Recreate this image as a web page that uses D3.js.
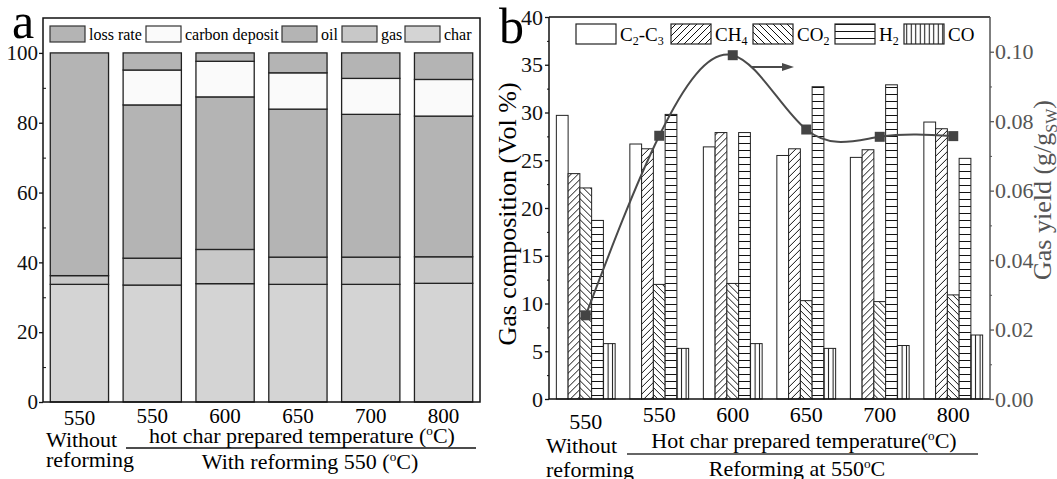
<!DOCTYPE html>
<html>
<head>
<meta charset="utf-8">
<script src="https://cdn.jsdelivr.net/npm/d3@7"></script>
<style>
body { margin: 0; background: #fff; }
svg { font-family: "Liberation Serif", "Times New Roman", serif; }
</style>
</head>
<body>
<svg id="chart" width="1057" height="479"></svg>
<script>
var categories = ["550", "550", "600", "650", "700", "800"];

// panel a, wt %, stacked from the bottom
var charYield = [33.7, 33.5, 33.9, 33.7, 33.7, 34.0];
var gasYieldA = [2.5, 7.7, 9.8, 7.8, 7.8, 7.6];
var oilYield = [63.8, 43.9, 43.7, 42.4, 40.9, 40.3];
var carbonDeposit = [0, 10.0, 10.2, 10.4, 10.3, 10.5];
var lossRate = [0, 4.9, 2.4, 5.7, 7.3, 7.6];

// panel b, vol %
var c2c3 = [29.7, 26.7, 26.4, 25.5, 25.3, 29.0];
var ch4 = [23.6, 26.2, 27.9, 26.2, 26.1, 28.3];
var co2 = [22.1, 12.0, 12.1, 10.3, 10.2, 10.9];
var h2 = [18.7, 29.8, 27.9, 32.7, 32.9, 25.2];
var co = [5.8, 5.3, 5.8, 5.3, 5.6, 6.7];
// gas yield, g/g
var gasYieldB = [0.0241, 0.0758, 0.0990, 0.0776, 0.0755, 0.0757];

var yTicksA = [0, 20, 40, 60, 80, 100];
var yTicksB = [0, 5, 10, 15, 20, 25, 30, 35, 40];
var yTicksR = [0, 0.02, 0.04, 0.06, 0.08, 0.10];

var svg = d3.select("#chart");
var defs = svg.append("defs");

function pattern(id, w, h, d) {
    var p = defs.append("pattern").attr("id", id)
        .attr("patternUnits", "userSpaceOnUse")
        .attr("width", w).attr("height", h);
    p.append("rect").attr("width", w).attr("height", h).attr("fill", "#fff");
    p.append("path").attr("d", d).attr("stroke", "#111").attr("stroke-width", 1).attr("fill", "none");
}
pattern("fwd", 7, 7, "M-1,1 l2,-2 M0,7 l7,-7 M6,8 l2,-2");
pattern("back", 7, 7, "M-1,6 l2,2 M0,0 l7,7 M6,-1 l2,2");
pattern("horiz", 7, 7, "M0,3.5 h7");
pattern("vert", 4.5, 7, "M2.25,0 v7");

// ---------- panel a ----------
var xA = d3.scaleBand().domain(d3.range(categories.length)).range([43, 480])
    .paddingInner(0.2).paddingOuter(0.1);
var yA = d3.scaleLinear().domain([0, 110]).range([402, 18]);

var keysA = ["char", "gas", "oil", "carbon", "loss"];
var colorsA = {loss: "#b4b4b4", carbon: "#fafafa", oil: "#b4b4b4", gas: "#c8c8c8", char: "#d4d4d4"};
var rowsA = categories.map(function(c, i) {
    return {char: charYield[i], gas: gasYieldA[i], oil: oilYield[i], carbon: carbonDeposit[i], loss: lossRate[i]};
});
var stackA = d3.stack().keys(keysA)(rowsA);

var gA = svg.append("g");
stackA.forEach(function(layer) {
    gA.append("g").selectAll("rect")
        .data(layer)
        .enter()
        .append("rect")
        .attr("x", function(d, i) { return xA(i); })
        .attr("width", xA.bandwidth())
        .attr("y", function(d) { return yA(d[1]); })
        .attr("height", function(d) { return yA(d[0]) - yA(d[1]); })
        .attr("fill", colorsA[layer.key])
        .attr("stroke", function(d) { return d[1] - d[0] > 0 ? "#222" : "none"; })
        .attr("stroke-width", 1.3);
});

gA.append("rect").attr("x", 43).attr("y", 18).attr("width", 437).attr("height", 384)
    .attr("fill", "none").attr("stroke", "#111").attr("stroke-width", 1.5);

var axA = gA.append("g").attr("transform", "translate(43,0)")
    .call(d3.axisLeft(yA).tickValues(yTicksA).tickSize(4).tickPadding(1));
axA.select(".domain").remove();
axA.selectAll("text").attr("font-size", 21).attr("font-family", "Liberation Serif").attr("fill", "#111");
axA.selectAll("line").attr("stroke", "#111").attr("stroke-width", 1.3);
var minA = gA.append("g").attr("transform", "translate(43,0)")
    .call(d3.axisLeft(yA).tickValues([10, 30, 50, 70, 90]).tickSize(-3).tickFormat(""));
minA.select(".domain").remove();
minA.selectAll("line").attr("stroke", "#111");

gA.selectAll(".catA").data(categories).enter().append("text")
    .attr("x", function(d, i) { return xA(i) + xA.bandwidth() / 2; })
    .attr("y", function(d, i) { return i === 0 ? 425 : 423; })
    .attr("text-anchor", "middle").attr("font-size", 21).text(function(d) { return d; });

// legend a
var legA = [
    {key: "loss", label: "loss rate", x: 50},
    {key: "carbon", label: "carbon deposit", x: 146},
    {key: "oil", label: "oil", x: 282},
    {key: "gas", label: "gas", x: 342},
    {key: "char", label: "char", x: 405}
];
legA.forEach(function(l) {
    gA.append("rect").attr("x", l.x).attr("y", 26).attr("width", 35).attr("height", 16)
        .attr("fill", colorsA[l.key]).attr("stroke", "#333").attr("stroke-width", 1.2);
    gA.append("text").attr("x", l.x + 39).attr("y", 40).attr("font-size", 16).text(l.label);
});

function degText(g, x, y, before, after, anchor, size) {
    var t = g.append("text").attr("x", x).attr("y", y).attr("text-anchor", anchor).attr("font-size", size);
    t.append("tspan").text(before);
    t.append("tspan").attr("font-size", size * 0.6).attr("dy", -size * 0.35).text("o");
    t.append("tspan").attr("dy", size * 0.35).text(after);
    return t;
}

gA.append("text").attr("x", 46).attr("y", 447).attr("font-size", 22).text("Without");
gA.append("text").attr("x", 46).attr("y", 467).attr("font-size", 22).text("reforming");
degText(gA, 302, 443, "hot char prepared temperature (", "C)", "middle", 22);
gA.append("line").attr("x1", 126).attr("x2", 476).attr("y1", 448).attr("y2", 448)
    .attr("stroke", "#111").attr("stroke-width", 1.3);
degText(gA, 310, 469, "With reforming 550 (", "C)", "middle", 22);
gA.append("text").attr("x", 12).attr("y", 38).attr("font-size", 50).text("a");

// ---------- panel b ----------
var xB = d3.scaleBand().domain(d3.range(categories.length)).range([549, 990])
    .paddingInner(0.2).paddingOuter(0.1);
var keysB = ["c2c3", "ch4", "co2", "h2", "co"];
var seriesB = {c2c3: c2c3, ch4: ch4, co2: co2, h2: h2, co: co};
var fillB = {c2c3: "#fff", ch4: "url(#fwd)", co2: "url(#back)", h2: "url(#horiz)", co: "url(#vert)"};
var xSub = d3.scaleBand().domain(keysB).range([0, xB.bandwidth()]);
var yB = d3.scaleLinear().domain([0, 40]).range([399, 17]);
var yR = d3.scaleLinear().domain([0, 0.11]).range([399, 17]);

var gB = svg.append("g");
var groups = gB.selectAll(".grp").data(categories).enter().append("g")
    .attr("transform", function(d, i) { return "translate(" + xB(i) + ",0)"; });
groups.each(function(c, i) {
    d3.select(this).selectAll("rect").data(keysB).enter().append("rect")
        .attr("x", function(k) { return xSub(k); })
        .attr("width", xSub.bandwidth())
        .attr("y", function(k) { return yB(seriesB[k][i]); })
        .attr("height", function(k) { return yB(0) - yB(seriesB[k][i]); })
        .attr("fill", function(k) { return fillB[k]; })
        .attr("stroke", "#222").attr("stroke-width", 1);
});

// frame
gB.append("line").attr("x1", 549).attr("x2", 990).attr("y1", 17).attr("y2", 17).attr("stroke", "#111").attr("stroke-width", 1.5);
gB.append("line").attr("x1", 549).attr("x2", 990).attr("y1", 399).attr("y2", 399).attr("stroke", "#111").attr("stroke-width", 1.5);
gB.append("line").attr("x1", 549).attr("x2", 549).attr("y1", 17).attr("y2", 399).attr("stroke", "#111").attr("stroke-width", 1.5);
gB.append("line").attr("x1", 990).attr("x2", 990).attr("y1", 17).attr("y2", 399).attr("stroke", "#555").attr("stroke-width", 1.5);

var axB = gB.append("g").attr("transform", "translate(549,0)")
    .call(d3.axisLeft(yB).tickValues(yTicksB).tickSize(4).tickPadding(2));
axB.select(".domain").remove();
axB.selectAll("text").attr("font-size", 22).attr("font-family", "Liberation Serif").attr("fill", "#111");
axB.selectAll("line").attr("stroke", "#111").attr("stroke-width", 1.3);
var minB = gB.append("g").attr("transform", "translate(549,0)")
    .call(d3.axisLeft(yB).tickValues(d3.range(2.5, 40, 5)).tickSize(2).tickFormat(""));
minB.select(".domain").remove();
minB.selectAll("line").attr("stroke", "#111");

var axR = gB.append("g").attr("transform", "translate(990,0)")
    .call(d3.axisRight(yR).tickValues(yTicksR).tickSize(4).tickPadding(1).tickFormat(d3.format(".2f")));
axR.select(".domain").remove();
axR.selectAll("text").attr("font-size", 22).attr("font-family", "Liberation Serif").attr("fill", "#555");
axR.selectAll("line").attr("stroke", "#555").attr("stroke-width", 1.3);
var minR = gB.append("g").attr("transform", "translate(990,0)")
    .call(d3.axisRight(yR).tickValues([0.01, 0.03, 0.05, 0.07, 0.09]).tickSize(2).tickFormat(""));
minR.select(".domain").remove();
minR.selectAll("line").attr("stroke", "#555");

// gas yield line
var cx = function(i) { return xB(i) + xB.bandwidth() / 2; };
var line = d3.line().x(function(d, i) { return cx(i); }).y(function(d) { return yR(d); }).curve(d3.curveNatural);
gB.append("path").datum(gasYieldB).attr("d", line).attr("fill", "none")
    .attr("stroke", "#4a4a4a").attr("stroke-width", 2);
gB.selectAll(".mk").data(gasYieldB).enter().append("rect")
    .attr("x", function(d, i) { return cx(i) - 5; })
    .attr("y", function(d) { return yR(d) - 5; })
    .attr("width", 10).attr("height", 10).attr("fill", "#444");
gB.append("line").attr("x1", 752).attr("x2", 784).attr("y1", 67).attr("y2", 67)
    .attr("stroke", "#4a4a4a").attr("stroke-width", 2);
gB.append("path").attr("d", "M782,63 L794,67 L782,71 Z").attr("fill", "#4a4a4a");

// category labels b
gB.selectAll(".catB").data(categories).enter().append("text")
    .attr("x", function(d, i) { return cx(i); })
    .attr("y", function(d, i) { return i === 0 ? 429 : 422; })
    .attr("text-anchor", "middle").attr("font-size", 22).text(function(d) { return d; });

gB.append("text").attr("x", 546).attr("y", 453).attr("font-size", 22).text("Without");
gB.append("text").attr("x", 546).attr("y", 477).attr("font-size", 22).text("reforming");
degText(gB, 804, 448, "Hot char prepared temperature(", "C)", "middle", 22);
gB.append("line").attr("x1", 627).attr("x2", 978).attr("y1", 454).attr("y2", 454)
    .attr("stroke", "#333").attr("stroke-width", 1.3);
degText(gB, 797, 476, "Reforming at 550", "C", "middle", 22);
gB.append("text").attr("x", 499).attr("y", 43).attr("font-size", 50).text("b");

// axis titles
gB.append("text").attr("transform", "translate(516,214) rotate(-90)")
    .attr("text-anchor", "middle").attr("font-size", 26).text("Gas composition (Vol %)");
var rt = gB.append("text").attr("transform", "translate(1051,190) rotate(-90)")
    .attr("text-anchor", "middle").attr("font-size", 26).attr("fill", "#555");
rt.append("tspan").text("Gas yield (g/g");
rt.append("tspan").attr("font-size", 16).attr("dy", 6).text("SW");
rt.append("tspan").attr("dy", -6).text(")");

// legend b
var legB = [
    {key: "c2c3", x: 576, parts: [["C", 0], ["2", 1], ["-C", 0], ["3", 1]]},
    {key: "ch4", x: 671, parts: [["CH", 0], ["4", 1]]},
    {key: "co2", x: 753, parts: [["CO", 0], ["2", 1]]},
    {key: "h2", x: 835, parts: [["H", 0], ["2", 1]]},
    {key: "co", x: 904, parts: [["CO", 0]]}
];
legB.forEach(function(l) {
    gB.append("rect").attr("x", l.x).attr("y", 24).attr("width", 40).attr("height", 20)
        .attr("fill", fillB[l.key]).attr("stroke", "#222").attr("stroke-width", 1.2);
    var t = gB.append("text").attr("x", l.x + 44).attr("y", 41).attr("font-size", 19);
    var sub = 0;
    l.parts.forEach(function(p) {
        var ts = t.append("tspan").text(p[0]);
        if (p[1] && !sub) { ts.attr("font-size", 12).attr("dy", 4); sub = 1; }
        else if (!p[1] && sub) { ts.attr("dy", -4); sub = 0; }
    });
});
</script>
</body>
</html>
